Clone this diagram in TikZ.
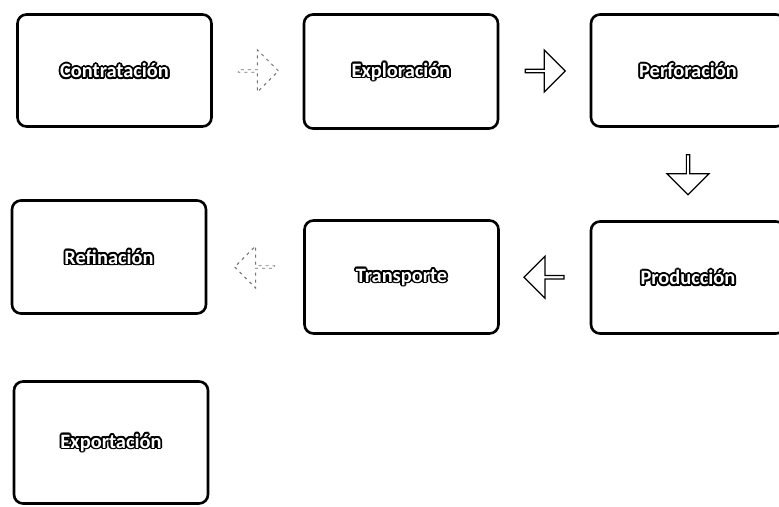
\documentclass[tikz,border=0pt]{standalone}
\usepackage{fontspec}
\setmainfont{Carlito}
\usetikzlibrary{shapes.arrows,calc}
\newcommand\halotext[1]{\begingroup\setbox0=\hbox{\bfseries #1}%
\foreach \a in {0,30,...,330}{\pgfmathsetmacro\dx{1.8*cos(\a)}\pgfmathsetmacro\dy{1.8*sin(\a)}%
\rlap{\kern\dx pt\raisebox{\dy pt}{\textcolor{black}{\copy0}}}}%
\textcolor{white}{\copy0}\endgroup}
\tikzset{
  box/.style={draw=black, line width=2.6bp, rounded corners=9bp, fill=white,
    minimum width=194bp, minimum height=112bp, inner sep=0pt,
    font=\fontsize{20.5}{24}\selectfont},
  blockarrow/.style={single arrow, draw=black, line width=1.2bp, fill=white,
    minimum height=40bp, minimum width=42bp, single arrow head extend=7bp,
    inner sep=0pt},
  faintarrow/.style={blockarrow, draw=black!55, line width=0.9bp, dash pattern=on 3bp off 4bp}
}
\begin{document}
\begin{tikzpicture}[x=1bp,y=-1bp]
\useasboundingbox[fill=white] (0,0) rectangle (779,507);
\node[box] (b1) at (114.5,70.5) {\halotext{Contratación}};
\node[box, minimum height=114bp] (b2) at (401,71.5) {\halotext{Exploración}};
\node[box] (b3) at (688,70.5) {\halotext{Perforación}};
\node[box] (b4) at (688,277.5) {\halotext{Producción}};
\node[box, minimum height=113bp] (b5) at (401.5,277) {\halotext{Transporte}};
\node[box, minimum height=113bp] (b6) at (109,257) {\halotext{Refinación}};
\node[box, minimum height=122bp] (b7) at (111,442.5) {\halotext{Exportación}};
\node[faintarrow] (a12) at ($(b1.east)!0.5!(b2.west)$) {};
\node[blockarrow] (a23) at ($(b2.east)!0.5!(b3.west)$) {};
\node[blockarrow, shape border rotate=270] (a34) at ($(b3.south)!0.5!(b4.north)$) {};
\node[blockarrow, shape border rotate=180] (a45) at ($(b4.west)!0.5!(b5.east)$) {};
\node[faintarrow, shape border rotate=180] (a56) at ($(b5.west)!0.5!(b6.east)$) {};
\end{tikzpicture}
\end{document}
